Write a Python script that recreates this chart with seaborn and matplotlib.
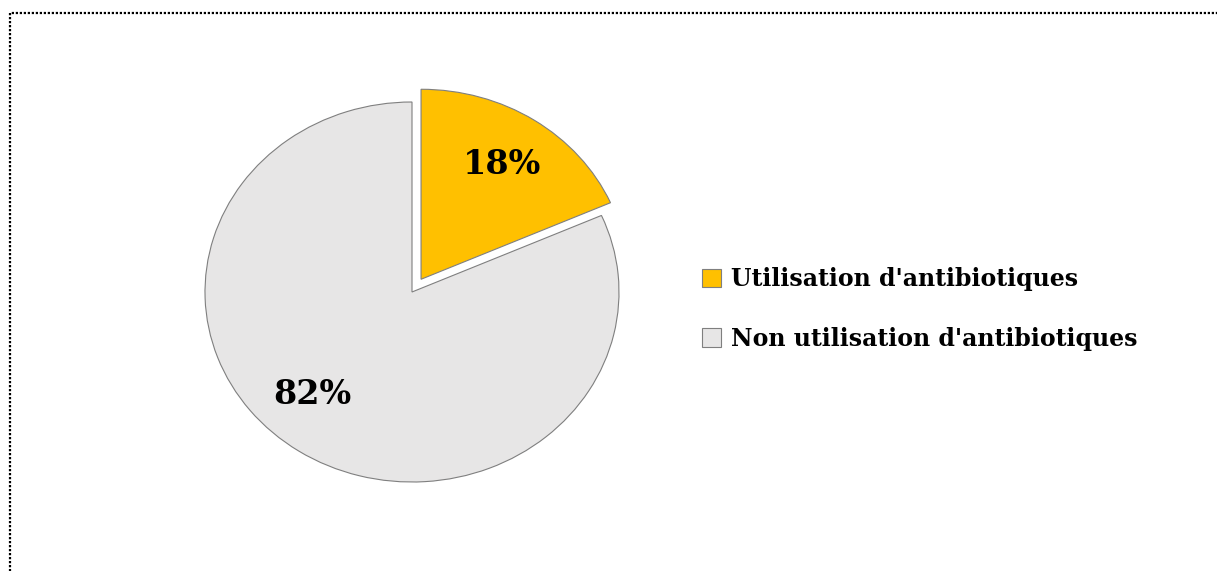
import matplotlib
matplotlib.use("Agg")
import matplotlib.pyplot as plt
import seaborn as sns
from matplotlib.patches import Rectangle

# Data
categories = ["Utilisation d'antibiotiques", "Non utilisation d'antibiotiques"]
values = [18.4, 81.6]
colors = ["#FFC000", "#E7E6E6"]

sns.set_theme(style="white")
plt.rcParams["font.family"] = ["DejaVu Serif"]

W, H = 1217, 571
fig = plt.figure(figsize=(W / 100, H / 100), dpi=100)

# elliptical pie: rx ~207px, ry ~190px, centre (412, 292)
rx, ry, cx, cy = 207, 190, 412, 292
lim = 1.2
ax = fig.add_axes([(cx - lim * rx) / W, (H - cy - lim * ry) / H,
                   2 * lim * rx / W, 2 * lim * ry / H])

wedges, texts, autotexts = ax.pie(
    values, colors=colors, startangle=90, counterclock=False,
    explode=[0.08, 0], autopct="%1.0f%%", pctdistance=0.72,
    wedgeprops=dict(edgecolor="#7f7f7f", linewidth=0.8),
    textprops=dict(fontsize=24, fontweight="bold", color="black"))
# nudge the big-slice label a bit left, like the original
autotexts[1].set_position((-0.48, -0.54))
ax.set_xlim(-lim, lim)
ax.set_ylim(-lim, lim)
ax.set_aspect("auto")
ax.axis("off")

leg = fig.legend(wedges, categories, loc="center left",
                 bbox_to_anchor=(681 / W, 1 - 309 / H), frameon=False,
                 prop=dict(size=17, weight="bold"),
                 handlelength=0.8, handleheight=0.8, handletextpad=0.4,
                 labelspacing=1.5)
for t in leg.get_texts():
    t.set_color("black")

# dotted frame (top and left visible)
fig.patches.append(Rectangle((10 / W, -0.1), 1.2, 1 - 13 / H + 0.1,
                             transform=fig.transFigure, fill=False,
                             edgecolor="black", linestyle=(0, (1, 0.8)),
                             linewidth=1.6))

fig.savefig("out.png", dpi=100)
